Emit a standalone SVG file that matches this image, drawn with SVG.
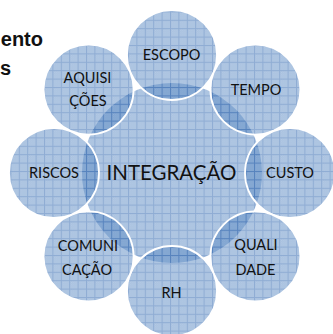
<svg xmlns="http://www.w3.org/2000/svg" width="333" height="334" viewBox="0 0 333 334">
<defs>
<pattern id="chk" width="2" height="2" patternUnits="userSpaceOnUse">
<rect width="2" height="2" fill="#4f81bd"/>
<rect width="1" height="1" fill="#6a95cb"/>
<rect x="1" y="1" width="1" height="1" fill="#6a95cb"/>
</pattern>
<pattern id="tex" width="8.4" height="8.4" patternUnits="userSpaceOnUse" x="2" y="3">
<rect width="8.4" height="8.4" fill="url(#chk)"/>
<rect width="8.4" height="1" fill="#1f5aa8"/>
<rect width="1" height="8.4" fill="#1f5aa8"/>
</pattern>
</defs>
<style>
.c{fill:url(#tex);fill-opacity:0.5}
.o{stroke:#ffffff;stroke-width:1.8}
.t{font-family:Lato,"Liberation Sans",sans-serif;font-size:14.5px;fill:#111111;text-anchor:middle}
.big{font-size:20.5px}
.h{font-family:"Liberation Sans",Arial,sans-serif;font-weight:bold;font-size:20px;fill:#111111}
</style>
<text class="h" x="43" y="46" text-anchor="end">ento</text>
<text class="h" x="0" y="75">s</text>
<g id="integracao">
<circle class="c" cx="172" cy="173" r="90"/>
<text class="t big" x="171.5" y="180">INTEGRAÇÃO</text>
</g>
<g id="escopo">
<circle class="c o" cx="172" cy="55" r="45"/>
<text class="t" x="171.5" y="60">ESCOPO</text>
</g>
<g id="tempo">
<circle class="c o" cx="255.4" cy="89.6" r="45"/>
<text class="t" x="256" y="95">TEMPO</text>
</g>
<g id="custo">
<circle class="c o" cx="290" cy="173" r="45"/>
<text class="t" x="290" y="178">CUSTO</text>
</g>
<g id="qualidade">
<circle class="c o" cx="255.4" cy="256.4" r="45"/>
<text class="t" x="256" y="250">QUALI</text>
<text class="t" x="255.5" y="275">DADE</text>
</g>
<g id="rh">
<circle class="c o" cx="172" cy="291" r="45"/>
<text class="t" x="171.5" y="298">RH</text>
</g>
<g id="comunicacao">
<circle class="c o" cx="88.6" cy="256.4" r="45"/>
<text class="t" x="88" y="251">COMUNI</text>
<text class="t" x="87" y="275">CAÇÃO</text>
</g>
<g id="riscos">
<circle class="c o" cx="54" cy="173" r="45"/>
<text class="t" x="54" y="178">RISCOS</text>
</g>
<g id="aquisicoes">
<circle class="c o" cx="88.6" cy="89.6" r="45"/>
<text class="t" x="87.5" y="83">AQUISI</text>
<text class="t" x="88" y="106">ÇÕES</text>
</g>
<g id="connectors"></g>
</svg>
